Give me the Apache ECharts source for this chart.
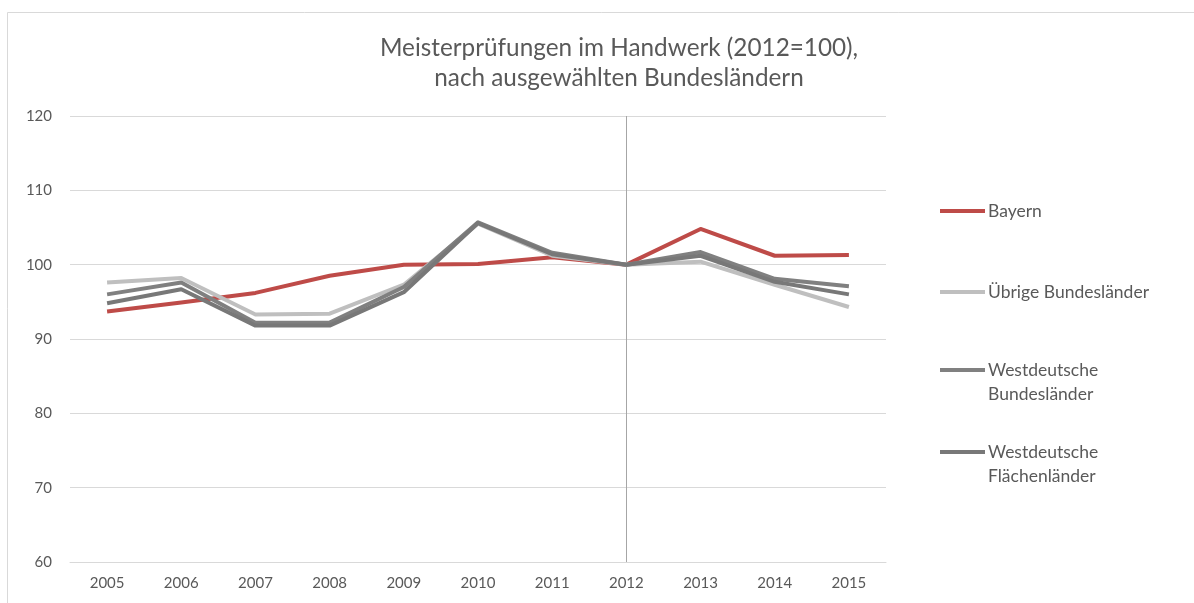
<!DOCTYPE html>
<html>
<head>
<meta charset="utf-8">
<script src="https://cdn.jsdelivr.net/npm/echarts@6/dist/echarts.min.js"></script>
<style>html,body{margin:0;padding:0;background:#fff;}#c{width:1194px;height:603px;}</style>
</head>
<body>
<div id="c"></div>
<script>
const years = ['2005','2006','2007','2008','2009','2010','2011','2012','2013','2014','2015'];
const yTicks = [60, 70, 80, 90, 100, 110, 120];
const bayern = [93.7, 94.9, 96.2, 98.5, 100.0, 100.1, 101.0, 100, 104.8, 101.2, 101.3];
const uebrige = [97.6, 98.2, 93.3, 93.4, 97.3, 105.5, 101.2, 100, 100.4, 97.3, 94.3];
const westBund = [96.0, 97.6, 92.2, 92.2, 97.0, 105.7, 101.6, 100, 101.7, 98.1, 97.1];
const westFlaeche = [94.8, 96.7, 91.8, 91.8, 96.3, 105.6, 101.4, 100, 101.2, 97.7, 96.0];
const seriesNames = ['Bayern', 'Übrige Bundesländer', 'Westdeutsche Bundesländer', 'Westdeutsche Flächenländer'];
const refYear = '2012';

const FONT = 'Lato';
const TXT = '#595959';
const colors = ['#BE4B48', '#BFBFBF', '#808080', '#787878'];
const datas = [bayern, uebrige, westBund, westFlaeche];

const chart = echarts.init(document.getElementById('c'));

function mkLegend(name, top, twoLine) {
  return {
    data: [name],
    left: 940, top: top, orient: 'vertical', padding: 0,
    icon: 'rect', itemWidth: 45, itemHeight: 4, itemGap: 0,
    selectedMode: false,
    formatter: twoLine ? (n => ' \n' + n.replace(' ', '\n')) : (n => n),
    textStyle: {
      fontFamily: FONT, fontSize: 17.5, color: TXT, lineHeight: 24,
      padding: [0, 0, 0, -2]
    }
  };
}

chart.setOption({
  backgroundColor: '#fff',
  animation: false,
  title: {
    text: 'Meisterprüfungen im Handwerk (2012=100),\nnach ausgewählten Bundesländern',
    left: 614, textAlign: 'center', top: 28,
    textStyle: { fontFamily: FONT, fontSize: 24.3, fontWeight: 'normal', color: TXT, lineHeight: 30 }
  },
  graphic: [{
    type: 'rect', shape: { x: 7.5, y: 12.5, width: 1300, height: 700 },
    style: { fill: 'none', stroke: '#D9D9D9', lineWidth: 1 }, silent: true
  }],
  legend: [
    mkLegend(seriesNames[0], 199, false),
    mkLegend(seriesNames[1], 280, false),
    mkLegend(seriesNames[2], 334, true),
    mkLegend(seriesNames[3], 416, true)
  ],
  grid: { left: 70, right: 308, top: 116, bottom: 41, containLabel: false },
  xAxis: {
    type: 'category', data: years, boundaryGap: true,
    axisLine: { show: true, lineStyle: { color: '#D9D9D9', width: 1 } },
    axisTick: { show: false },
    axisLabel: { fontFamily: FONT, fontSize: 15, color: TXT, margin: 14 },
    splitLine: { show: false }
  },
  yAxis: {
    type: 'value', min: yTicks[0], max: yTicks[yTicks.length - 1], interval: 10,
    axisLine: { show: false }, axisTick: { show: false },
    axisLabel: { fontFamily: FONT, fontSize: 15, color: TXT, margin: 18 },
    splitLine: { lineStyle: { color: '#D9D9D9', width: 1 } }
  },
  series: seriesNames.map((n, i) => ({
    name: n, type: 'line', data: datas[i], symbol: 'none',
    lineStyle: { color: colors[i], width: 4, join: 'round' },
    itemStyle: { color: colors[i] },
    z: 2 + i,
    markLine: i === 0 ? {
      silent: true, symbol: 'none', label: { show: false },
      lineStyle: { color: '#A6A6A6', width: 1, type: 'solid' },
      data: [{ xAxis: refYear }]
    } : undefined
  }))
});
</script>
</body>
</html>
